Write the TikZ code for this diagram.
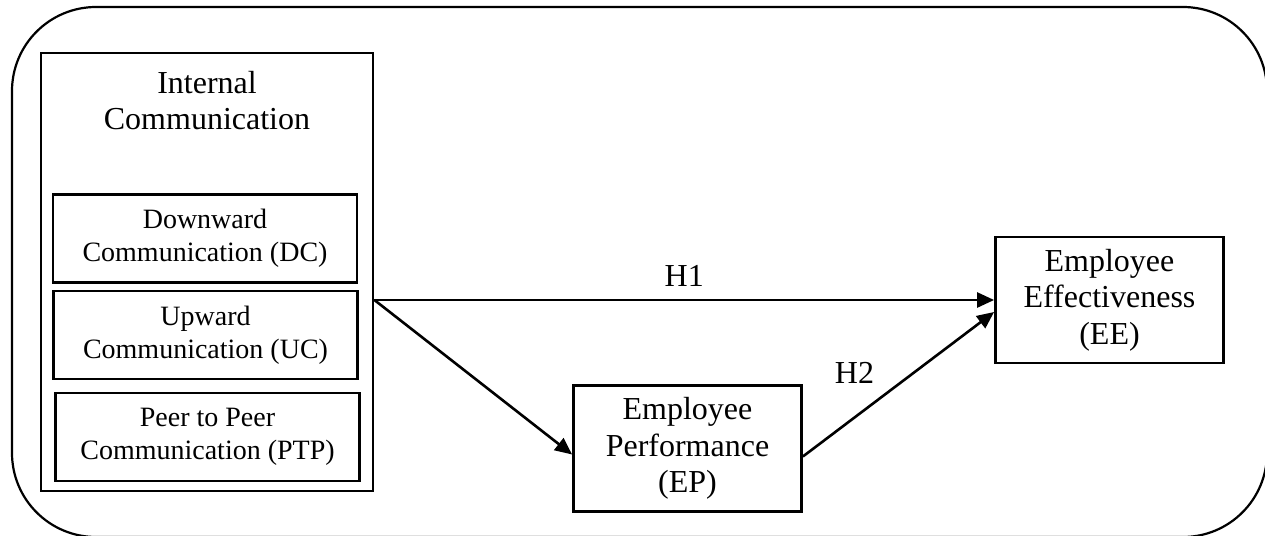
\documentclass[tikz,border=0pt]{standalone}
\usepackage{fontspec}
\setmainfont{Liberation Serif}
\usetikzlibrary{arrows.meta}

\tikzset{
  box/.style={draw, line width=1.4pt, align=center, inner sep=0pt},
  subbox/.style={box, font=\fontsize{14}{16.3}\selectfont, minimum width=152pt, minimum height=44pt},
  var/.style={box, font=\fontsize{16}{18.3}\selectfont, minimum width=114pt, minimum height=63pt},
  hyp/.style={font=\fontsize{16}{18}\selectfont, inner sep=0pt},
  arr/.style={line width=1.3pt, -{Triangle[length=8.5pt,width=7.5pt]}}
}

\begin{document}
\begin{tikzpicture}[x=0.5pt,y=-0.5pt]
	\useasboundingbox (0,0) rectangle (1265,536);

	\draw[line width=1.1pt, rounded corners=42pt] (12,7) rectangle (1267,537);

	\node[box, minimum width=166pt, minimum height=219pt] (ic) at (207,272) {};
	\node[hyp, align=center] (ictitle) at (207,101) {Internal\\Communication};

	\node[subbox] (dc) at (205,238.5) {Downward\\Communication (DC)};
	\node[subbox] (uc) at (205.5,335) {Upward\\Communication (UC)};
	\node[subbox] (ptp) at (207.5,437) {Peer to Peer\\Communication (PTP)};

	\node[var] (ep) at (687.5,448.5) {Employee\\Performance\\(EP)};
	\node[var] (ee) at (1109.5,300) {Employee\\Effectiveness\\(EE)};

	\coordinate (src) at (ic.east |- ee.west);
	\draw[arr] (src) -- node[hyp, above=6pt] {H1} (ee.west);
	\draw[arr] (src) -- ([yshift=-3pt]ep.west);
	\draw[arr] ([yshift=-4pt]ep.east) -- node[hyp, pos=0.27, above=16.5pt] {H2} ([yshift=-6pt]ee.west);
\end{tikzpicture}
\end{document}
